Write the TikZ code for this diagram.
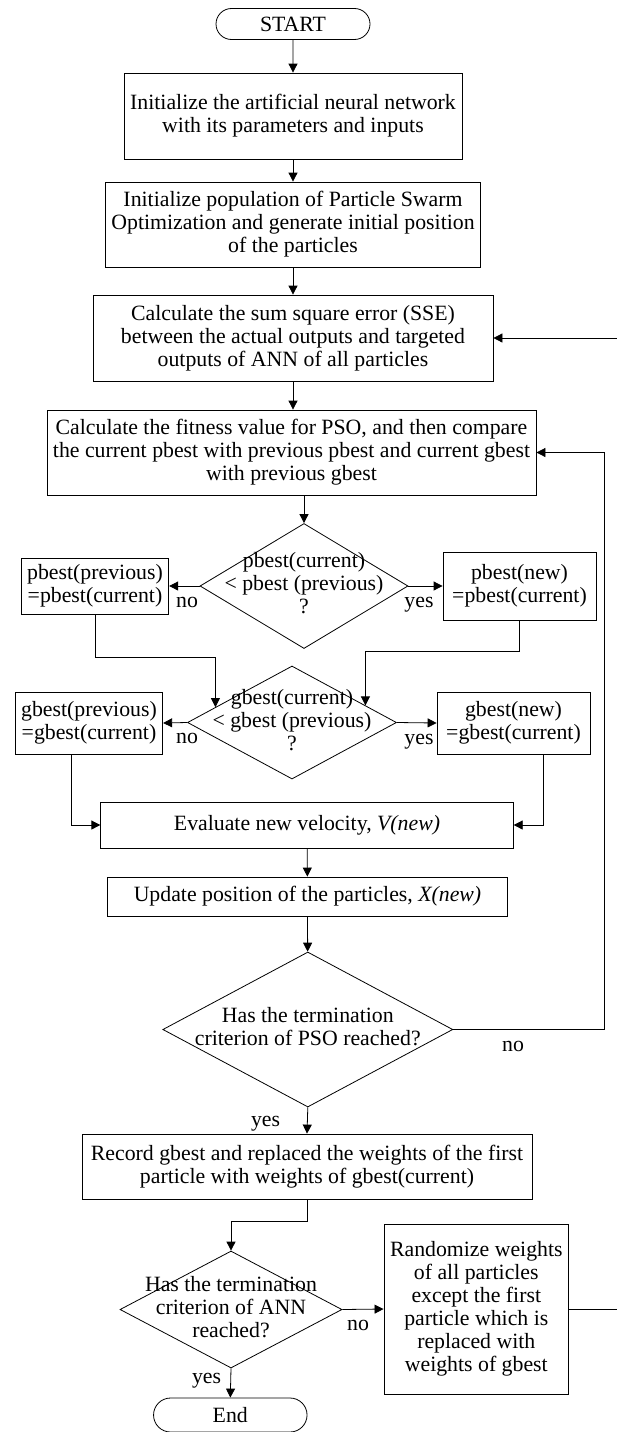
\documentclass[tikz,border=0pt]{standalone}
\usepackage{fontspec}
\setmainfont{Liberation Serif}
\usetikzlibrary{arrows.meta,shapes.geometric,shapes.misc,calc}
\newcommand{\flattext}[1]{\makebox[0pt]{\raisebox{-0.25em}[0pt][0pt]{\begin{tabular}[c]{@{}c@{}}#1\end{tabular}}}}
\begin{document}
\begin{tikzpicture}[x=1pt,y=-1pt,line width=0.8pt,>={Triangle[length=9pt,width=9pt]},
every node/.style={font=\fontsize{21.8}{23}\selectfont},
box/.style={draw,inner sep=0pt,align=center},
term/.style={rounded rectangle,draw,inner sep=0pt},
dec/.style={diamond,draw,inner sep=0pt},
lbl/.style={inner sep=0pt,anchor=base}]
\useasboundingbox (0,0) rectangle (617,1432);
\node[term,minimum width=154pt,minimum height=31pt] (start) at (293,24) {START};
\node[box,minimum width=338pt,minimum height=86pt] (init) at (293,116) {Initialize the artificial neural network\\with its parameters and inputs};
\node[box,minimum width=375pt,minimum height=85pt] (pop) at (293,224.5) {Initialize population of Particle Swarm\\Optimization and generate initial position\\of the particles};
\node[box,minimum width=400pt,minimum height=86pt] (sse) at (293,338) {Calculate the sum square error (SSE)\\between the actual outputs and targeted\\outputs of ANN of all particles};
\node[box,minimum width=489pt,minimum height=85pt] (fit) at (291.5,452.5) {Calculate the fitness value for PSO, and then compare\\the current pbest with previous pbest and current gbest\\with previous gbest};
\node[dec,minimum width=208pt,minimum height=125pt] (dp) at (304,586) {\flattext{pbest(current)\\< pbest (previous)\\?}};
\node[box,minimum width=147.5pt,minimum height=56pt] (pprev) at (95,586) {pbest(previous)\\=pbest(current)};
\node[box,minimum width=153pt,minimum height=68pt] (pnew) at (519.5,586) {pbest(new)\\=pbest(current)};
\node[dec,minimum width=209pt,minimum height=113pt] (dg) at (292,722.5) {\flattext{gbest(current)\\< gbest (previous)\\?}};
\node[box,minimum width=147.5pt,minimum height=62pt] (gprev) at (89,723) {gbest(previous)\\=gbest(current)};
\node[box,minimum width=153pt,minimum height=62pt] (gnew) at (513.5,723) {gbest(new)\\=gbest(current)};
\node[box,minimum width=412.5pt,minimum height=46pt] (vel) at (307,825) {Evaluate new velocity, \textit{V(new)}};
\node[box,minimum width=400.7pt,minimum height=39pt] (pos) at (307.5,896.5) {Update position of the particles, \textit{X(new)}};
\node[dec,minimum width=290pt,minimum height=155pt] (dpso) at (307.8,1029.5) {\flattext{Has the termination\\criterion of PSO reached?}};
\node[box,minimum width=450pt,minimum height=65pt] (rec) at (307,1166.5) {Record gbest and replaced the weights of the first\\particle with weights of gbest(current)};
\node[dec,minimum width=222pt,minimum height=117pt] (dann) at (231,1309.5) {\flattext{Has the termination\\criterion of ANN\\reached?}};
\node[box,minimum width=184.7pt,minimum height=170pt] (rand) at (476.3,1309) {Randomize weights\\of all particles\\except the first\\particle which is\\replaced with\\weights of gbest};
\node[term,minimum width=153.5pt,minimum height=34pt] (end) at (230.3,1415) {End};
% main line
\draw[->] (start) -- (init);
\draw[->] (init) -- (pop);
\draw[->] (pop) -- (sse);
\draw[->] (sse.south) -- (sse.south |- fit.north);
\draw[->] (dp.north |- fit.south) -- (dp.north);
\draw[->] (dp.west) -- (pprev.east) node[lbl] at (187,607) {no};
\draw[->] (dp.east) -- (pnew.west) node[lbl] at (419,607) {yes};
\coordinate (pin) at ($(dg.north)!0.73!(dg.west)$);
\coordinate (qin) at ($(dg.north)!0.70!(dg.east)$);
\draw[->] (pprev.south) -- ++(0,43) -| (pin);
\draw[->] (pnew.south) -- ++(0,31) -| (qin);
\draw[->] (dg.west) -- (gprev.east) node[lbl] at (187,743) {no};
\draw[->] (dg.east) -- (gnew.west) node[lbl] at (419,744) {yes};
\draw[->] ([xshift=-18pt]gprev.south) |- (vel.west);
\draw[->] ([xshift=29.5pt]gnew.south) |- (vel.east);
\draw[->] (vel) -- (pos);
\draw[->] (pos) -- (dpso);
\draw[->] (dpso.east) -| ([xshift=68pt]fit.east) -- (fit.east);
\node[lbl] at (513,1051) {no};
\draw[->] (dpso.south) -- (rec.north) node[lbl] at (265.6,1126) {yes};
\draw[->] (rec.south) -- ++(0,22) -| (dann.north);
\draw[->] (dann.east) -- (rand.west) node[lbl] at (358,1330) {no};
\draw[->] (dann.south) -- (end.north) node[lbl] at (206.6,1383) {yes};
\draw[->] (rand.east) -| ([xshift=129pt]sse.east) -- (sse.east);
\end{tikzpicture}
\end{document}
